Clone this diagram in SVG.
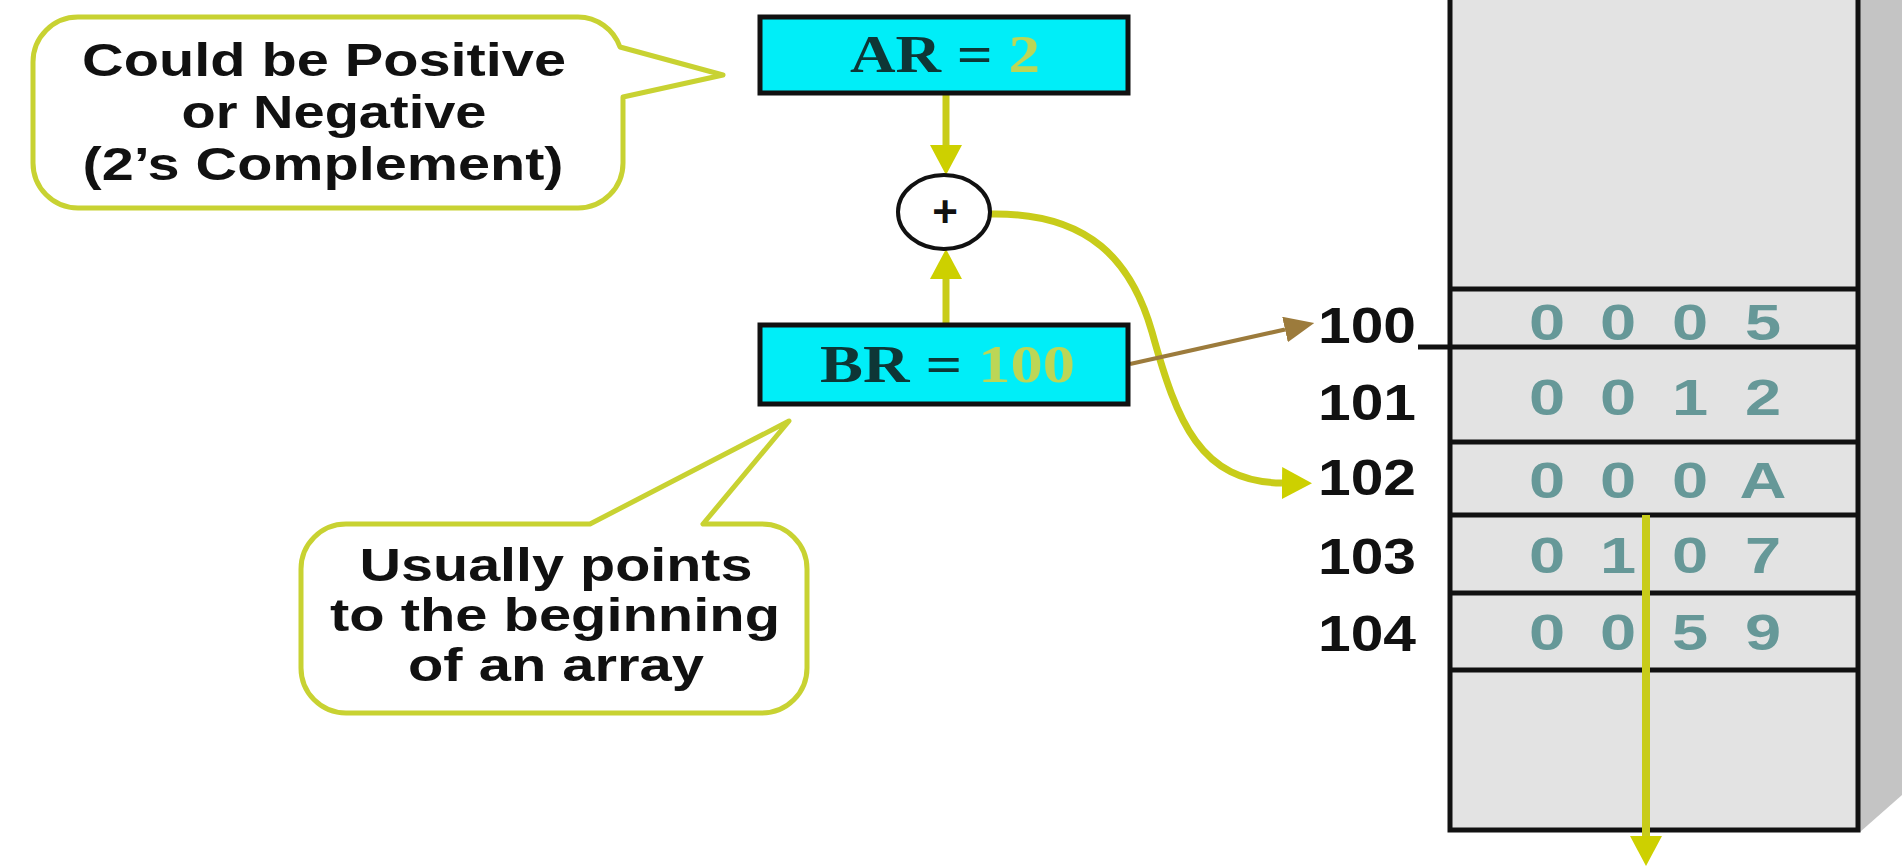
<svg xmlns="http://www.w3.org/2000/svg" width="1902" height="866" viewBox="0 0 1902 866">
<defs>
<style>
.callout{fill:#ffffff;stroke:#c8d232;stroke-width:5;stroke-linejoin:round}
.ctext{font-family:"Liberation Sans",Arial,sans-serif;font-weight:bold;font-size:47px;fill:#111111;text-anchor:middle}
.reg{fill:#00eef8;stroke:#111111;stroke-width:5}
.rtext{font-family:"Liberation Serif","Times New Roman",serif;font-weight:bold;font-size:53px;fill:#0e3636}
.rval{fill:#bcd656}
.addr{font-family:"Liberation Sans",Arial,sans-serif;font-weight:bold;font-size:50px;fill:#111111}
.digit{font-family:"Liberation Sans",Arial,sans-serif;font-weight:bold;font-size:50px;fill:#669898;text-anchor:middle}
.memline{stroke:#111111;stroke-width:5;fill:none}
.yel{stroke:#c8cc1a;stroke-width:7;fill:none}
</style>
<marker id="ahY" markerUnits="userSpaceOnUse" markerWidth="30" markerHeight="32" viewBox="0 0 30 32" refX="0" refY="16" orient="auto">
<path d="M0,0 L30,16 L0,32 Z" fill="#cdd000"/>
</marker>
<marker id="ahB" markerUnits="userSpaceOnUse" markerWidth="30" markerHeight="26" viewBox="0 0 30 26" refX="0" refY="13" orient="auto">
<path d="M0,0 L30,13 L0,26 Z" fill="#9c7b3c"/>
</marker>
</defs>
<rect x="0" y="0" width="1902" height="866" fill="#ffffff"/>

<g id="memory">
<polygon points="1860,0 1902,0 1902,795 1860,832" fill="#c4c4c4"/>
<rect x="1450" y="-10" width="408" height="840" fill="#e3e3e3" stroke="#111111" stroke-width="5"/>
<line class="memline" x1="1450" y1="289" x2="1858" y2="289"/>
<line class="memline" x1="1418" y1="347" x2="1858" y2="347"/>
<line class="memline" x1="1450" y1="442" x2="1858" y2="442"/>
<line class="memline" x1="1450" y1="515" x2="1858" y2="515"/>
<line class="memline" x1="1450" y1="593" x2="1858" y2="593"/>
<line class="memline" x1="1450" y1="670" x2="1858" y2="670"/>
<g transform="scale(1.3 1)">
<text class="digit" x="1190 1244.6 1300 1356.2" y="340">0005</text>
<text class="digit" x="1190 1244.6 1300 1356.2" y="415">0012</text>
<text class="digit" x="1190 1244.6 1300 1356.2" y="498">000A</text>
<text class="digit" x="1190 1244.6 1300 1356.2" y="573">0107</text>
<text class="digit" x="1190 1244.6 1300 1356.2" y="650">0059</text>
</g>
</g>

<g id="addresses">
<text class="addr" x="1318" y="343" textLength="98" lengthAdjust="spacingAndGlyphs">100</text>
<text class="addr" x="1318" y="420" textLength="98" lengthAdjust="spacingAndGlyphs">101</text>
<text class="addr" x="1318" y="495" textLength="98" lengthAdjust="spacingAndGlyphs">102</text>
<text class="addr" x="1318" y="574" textLength="98" lengthAdjust="spacingAndGlyphs">103</text>
<text class="addr" x="1318" y="651" textLength="98" lengthAdjust="spacingAndGlyphs">104</text>
</g>

<g id="callout-sign">
<path class="callout" d="M78,17 H578 A45,45 0 0 1 620,47 L723,75 L623,97 V163 A45,45 0 0 1 578,208 H78 A45,45 0 0 1 33,163 V62 A45,45 0 0 1 78,17 Z"/>
<text class="ctext" x="324" y="76" textLength="484" lengthAdjust="spacingAndGlyphs">Could be Positive</text>
<text class="ctext" x="334" y="128" textLength="305" lengthAdjust="spacingAndGlyphs">or Negative</text>
<text class="ctext" x="323" y="180" textLength="481" lengthAdjust="spacingAndGlyphs">(2’s Complement)</text>
</g>

<g id="callout-array">
<path class="callout" d="M346,524 H590 L789,421 L703,524 H762 A45,45 0 0 1 807,569 V668 A45,45 0 0 1 762,713 H346 A45,45 0 0 1 301,668 V569 A45,45 0 0 1 346,524 Z"/>
<text class="ctext" x="556" y="581" textLength="393" lengthAdjust="spacingAndGlyphs">Usually points</text>
<text class="ctext" x="555" y="631" textLength="450" lengthAdjust="spacingAndGlyphs">to the beginning</text>
<text class="ctext" x="556" y="681" textLength="296" lengthAdjust="spacingAndGlyphs">of an array</text>
</g>

<g id="connectors">
<line class="yel" x1="946" y1="95" x2="946" y2="145" marker-end="url(#ahY)"/>
<line class="yel" x1="946" y1="323" x2="946" y2="279" marker-end="url(#ahY)"/>
<path class="yel" d="M990,214 C1090,212 1132,262 1152,332 C1177,422 1200,482 1282,483" marker-end="url(#ahY)"/>
<line x1="1130" y1="364" x2="1285" y2="329.5" stroke="#9c7b3c" stroke-width="4" marker-end="url(#ahB)"/>
<line x1="1646" y1="515" x2="1646" y2="836" stroke="#c8cc1a" stroke-width="8" marker-end="url(#ahY)"/>
</g>

<g id="AR">
<rect class="reg" x="760" y="17" width="368" height="76"/>
<text class="rtext" x="850" y="72" textLength="190" lengthAdjust="spacingAndGlyphs">AR = <tspan class="rval">2</tspan></text>
</g>

<g id="adder">
<ellipse cx="944" cy="212" rx="46" ry="37" fill="#ffffff" stroke="#111111" stroke-width="4"/>
<text x="945" y="227" font-family="Liberation Sans, Arial, sans-serif" font-weight="bold" font-size="44" text-anchor="middle" fill="#111111">+</text>
</g>

<g id="BR">
<rect class="reg" x="760" y="325" width="368" height="79"/>
<text class="rtext" x="820" y="382" textLength="255" lengthAdjust="spacingAndGlyphs">BR = <tspan class="rval">100</tspan></text>
</g>
</svg>
